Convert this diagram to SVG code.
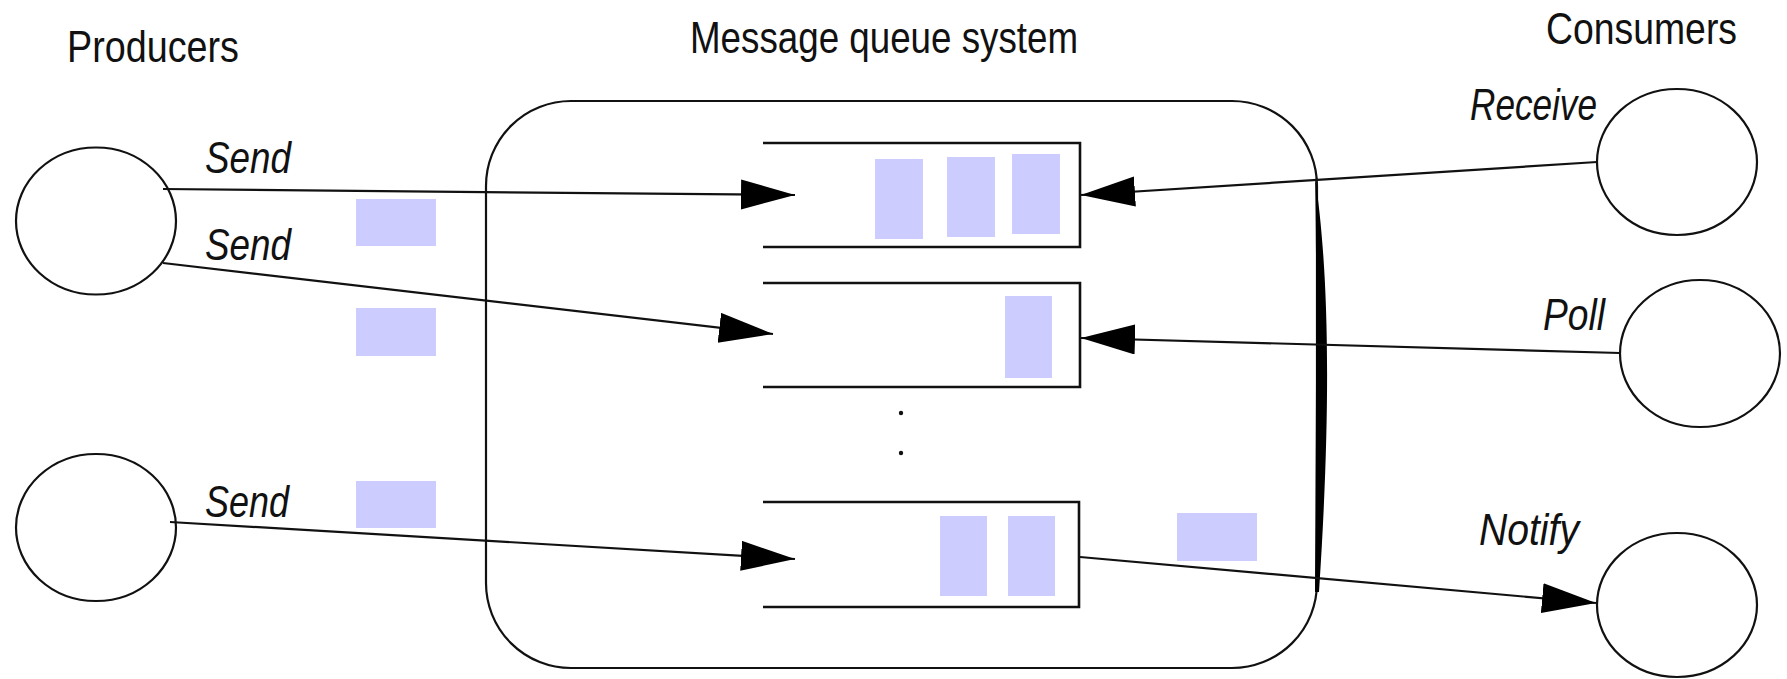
<svg xmlns="http://www.w3.org/2000/svg" width="1787" height="679" viewBox="0 0 1787 679">
<style>
.title{font-family:"Liberation Sans",Arial,sans-serif;font-size:44px;fill:#111}
.lbl{font-family:"Liberation Sans",Arial,sans-serif;font-size:44px;font-style:italic;fill:#111}
.node{fill:#fff;stroke:#111;stroke-width:2.2}
.queue{fill:none;stroke:#111;stroke-width:2.6}
.msg{fill:#ccccff}
.conn{fill:none;stroke:#111;stroke-width:2.2}
</style>
<defs>
<marker id="ah" markerUnits="userSpaceOnUse" markerWidth="56" markerHeight="32" refX="54" refY="15" orient="auto">
<path d="M0,0 L54,15 L0,30 Z" fill="#000"/>
</marker>
</defs>
<rect width="1787" height="679" fill="#fff"/>

<text class="title" x="67" y="62" textLength="172" lengthAdjust="spacingAndGlyphs">Producers</text>
<text class="title" x="690" y="53" textLength="388" lengthAdjust="spacingAndGlyphs">Message queue system</text>
<text class="title" x="1546" y="44" textLength="191" lengthAdjust="spacingAndGlyphs">Consumers</text>

<g id="system">
<rect x="486" y="101" width="831" height="567" rx="85" ry="85" fill="none" stroke="#111" stroke-width="2.2"/>
<path d="M1315,176 C1327,260 1333,380 1319,592 L1315,592 C1316,400 1317,260 1315,176 Z" fill="#000"/>
</g>

<g id="queue1">
<path class="queue" d="M763,143 L1080,143 L1080,247 L763,247"/>
<rect class="msg" x="875" y="159" width="48" height="80"/>
<rect class="msg" x="947" y="157" width="48" height="80"/>
<rect class="msg" x="1012" y="154" width="48" height="80"/>
</g>
<g id="queue2">
<path class="queue" d="M763,283 L1080,283 L1080,387 L763,387"/>
<rect class="msg" x="1005" y="296" width="47" height="82"/>
</g>
<g id="dots">
<circle cx="901" cy="413" r="2.2" fill="#111"/>
<circle cx="901" cy="453" r="2.2" fill="#111"/>
</g>
<g id="queue3">
<path class="queue" d="M763,502 L1079,502 L1079,607 L763,607"/>
<rect class="msg" x="940" y="516" width="47" height="80"/>
<rect class="msg" x="1008" y="516" width="47" height="80"/>
</g>

<g id="messages">
<rect class="msg" x="356" y="199" width="80" height="47"/>
<rect class="msg" x="356" y="308" width="80" height="48"/>
<rect class="msg" x="356" y="481" width="80" height="47"/>
<rect class="msg" x="1177" y="513" width="80" height="48"/>
</g>

<g id="producer1"><ellipse class="node" cx="96" cy="221" rx="80" ry="73.5"/></g>
<g id="producer2"><ellipse class="node" cx="96" cy="527.5" rx="80" ry="73.5"/></g>
<g id="consumer-receive"><ellipse class="node" cx="1677" cy="162" rx="80" ry="73"/></g>
<g id="consumer-poll"><ellipse class="node" cx="1700" cy="353.5" rx="80" ry="73.5"/></g>
<g id="consumer-notify"><ellipse class="node" cx="1677" cy="605" rx="80" ry="72"/></g>

<g id="connectors">
<path class="conn" d="M163,189 L795,195" marker-end="url(#ah)"/>
<path class="conn" d="M163,263 L773,334" marker-end="url(#ah)"/>
<path class="conn" d="M170,522 L795,559" marker-end="url(#ah)"/>
<path class="conn" d="M1597,162 L1081,195" marker-end="url(#ah)"/>
<path class="conn" d="M1620,353 L1081,338" marker-end="url(#ah)"/>
<path class="conn" d="M1080,557 L1596,603" marker-end="url(#ah)"/>
</g>

<g id="labels">
<text class="lbl" x="205" y="173" textLength="86" lengthAdjust="spacingAndGlyphs">Send</text>
<text class="lbl" x="205" y="260" textLength="86" lengthAdjust="spacingAndGlyphs">Send</text>
<text class="lbl" x="205" y="517" textLength="84" lengthAdjust="spacingAndGlyphs">Send</text>
<text class="lbl" x="1470" y="120" textLength="127" lengthAdjust="spacingAndGlyphs">Receive</text>
<text class="lbl" x="1543" y="330" textLength="62" lengthAdjust="spacingAndGlyphs">Poll</text>
<text class="lbl" x="1479" y="545" textLength="100" lengthAdjust="spacingAndGlyphs">Notify</text>
</g>
</svg>
